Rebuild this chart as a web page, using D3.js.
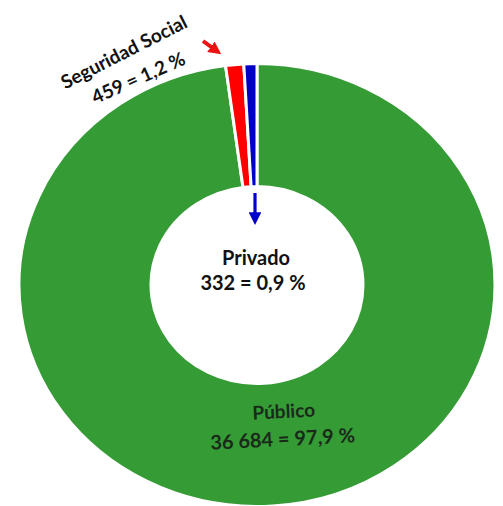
<!DOCTYPE html>
<html><head><meta charset="utf-8">
<script src="https://cdn.jsdelivr.net/npm/d3@7"></script>
<style>html,body{margin:0;padding:0;background:#fff;}svg{display:block;}</style>
</head><body>
<svg id="c" width="503" height="506"></svg>
<script>
const categories = ["Público", "Seguridad Social", "Privado"];
const values = [36684, 459, 332];
const percentLabels = ["97,9 %", "1,2 %", "0,9 %"];
const valueLabels = ["36 684", "459", "332"];
const colors = ["#359b35", "#ff0000", "#0000c8"];

const svg = d3.select("#c");
const cx = 257, cy = 285, outerR = 238, innerR = 106, sy = 0.93;

const pie = d3.pie().sort(null).value(d => d)(values);
const arc = d3.arc().innerRadius(innerR).outerRadius(outerR);

const g = svg.append("g").attr("transform", `translate(${cx},${cy}) scale(1,${sy})`);
g.selectAll("path").data(pie).join("path")
  .attr("d", arc)
  .attr("fill", (d, i) => colors[i])
  .attr("stroke", "#fff")
  .attr("stroke-width", 3)
  .attr("stroke-linejoin", "round");

const font = "Lato, 'Open Sans', sans-serif";
function label(x, y, rot, text, size, fill) {
  svg.append("text")
    .attr("transform", `translate(${x},${y}) rotate(${rot})`)
    .attr("text-anchor", "middle")
    .attr("font-family", font)
    .attr("font-weight", 700)
    .attr("font-size", size)
    .attr("fill", fill || "#111")
    .text(text);
}
// Seguridad Social
label(127, 58, -27, categories[1], 19);
label(141, 84, -24, `${valueLabels[1]} = ${percentLabels[1]}`, 19);
// Privado
label(256, 265, 0, categories[2], 20);
label(253, 290, 0, `${valueLabels[2]} = ${percentLabels[2]}`, 20);
// Público
label(284, 418, -3, categories[0], 19, "#1a2a1a");
label(283, 446, -3, `${valueLabels[0]} = ${percentLabels[0]}`, 20, "#1a2a1a");

// arrows
const defs = svg.append("defs");
function marker(id, color, size) {
  defs.append("marker").attr("id", id).attr("viewBox", "0 0 10 10")
    .attr("refX", 3).attr("refY", 5).attr("markerWidth", size).attr("markerHeight", size)
    .attr("orient", "auto")
    .append("path").attr("d", "M0,0 L10,5 L0,10 Z").attr("fill", color);
}
marker("ar", "#ee1111", 3.2);
marker("ab", "#0000c8", 4);
svg.append("line").attr("x1", 203).attr("y1", 41).attr("x2", 214).attr("y2", 49)
  .attr("stroke", "#ee1111").attr("stroke-width", 4).attr("marker-end", "url(#ar)");
svg.append("line").attr("x1", 255).attr("y1", 193).attr("x2", 255).attr("y2", 216)
  .attr("stroke", "#0000c8").attr("stroke-width", 3.2).attr("marker-end", "url(#ab)");
</script>
</body></html>
